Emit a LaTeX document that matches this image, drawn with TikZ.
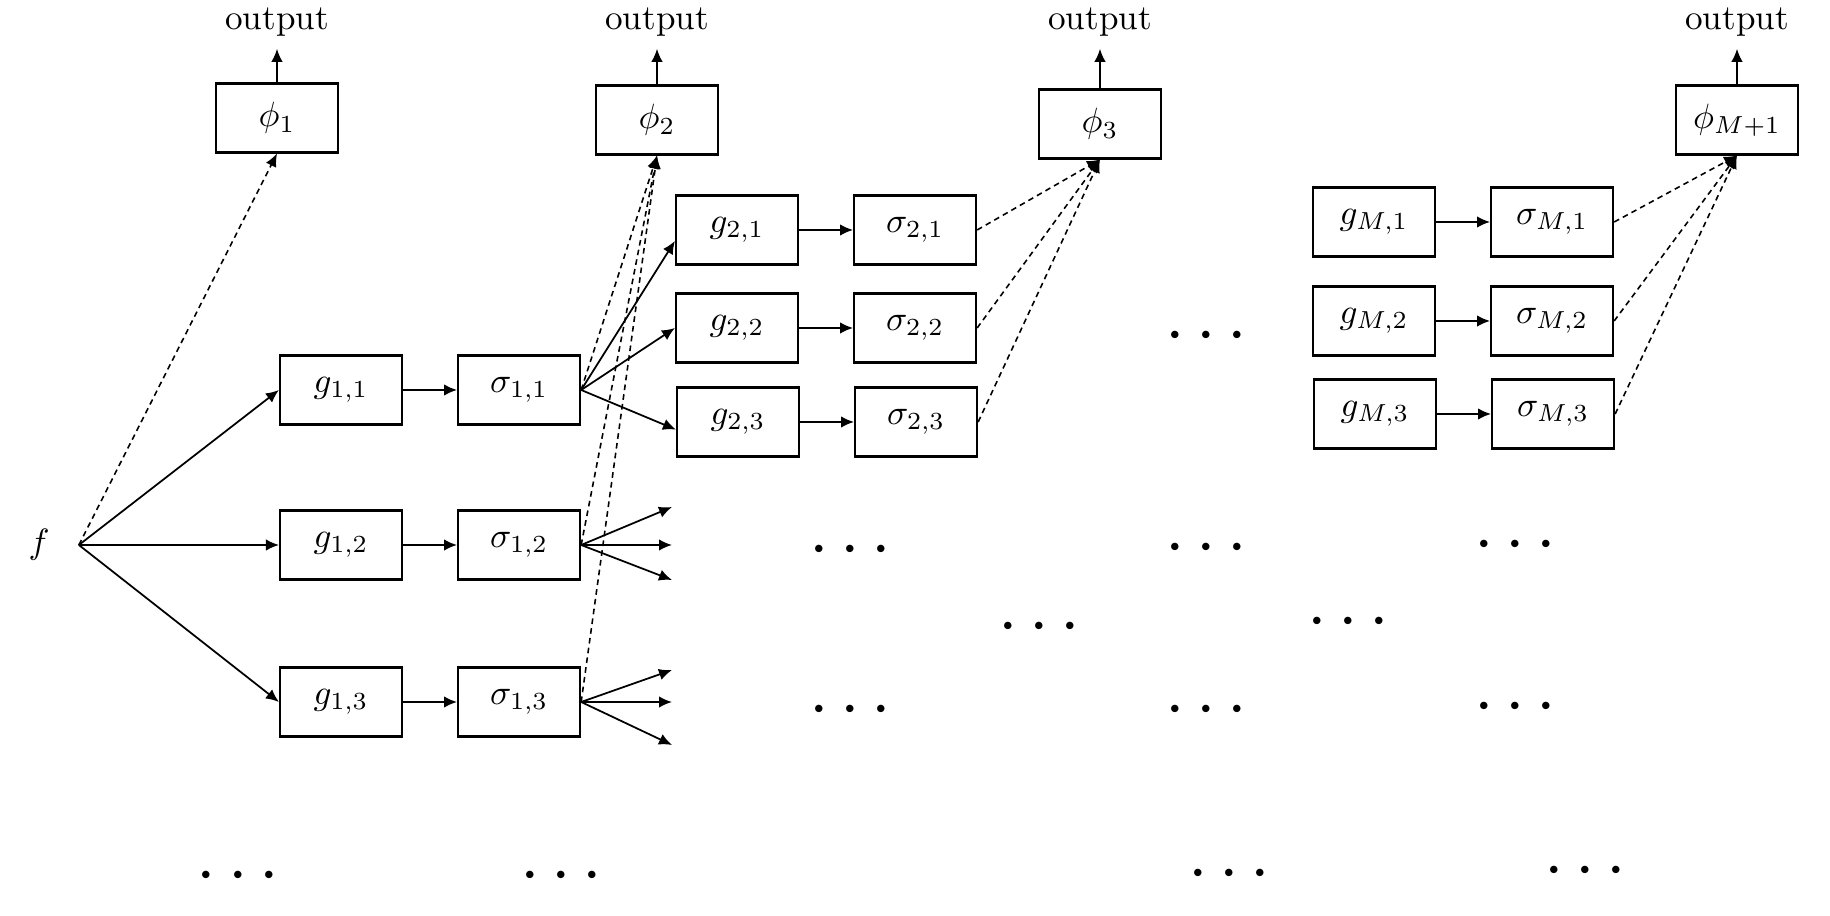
\documentclass[tikz,border=0pt]{standalone}
\usetikzlibrary{positioning, arrows.meta}

\begin{document}
\begin{tikzpicture}[
        box/.style={draw, line width=0.6pt, minimum width=1.22cm, minimum height=0.69cm},
        dots/.style={scale=2, inner sep=0pt},
        dashlink/.style={->, line width=0.45pt, dash pattern=on 1.6pt off 1.2pt},
        >={Latex[length=1.3mm,width=1.15mm]},
        line width=0.5pt]

        \useasboundingbox (0,0) rectangle (18.30,-9.16);

        \node (F) at (0.39,-5.45) [minimum width=0.78cm] {$f$};

        \node[box] (P1) at (2.77,-1.18) {$\phi_1$};
        \node[box] (P2) at (6.57,-1.20) {$\phi_2$};
        \node[box] (P3) at (11.00,-1.24) {$\phi_3$};
        \node[box] (PM) at (17.37,-1.20) {$\phi_{M+1}$};

        \node (O1) at (2.77,-0.22) {output};
        \node (O2) at (6.57,-0.22) {output};
        \node (O3) at (11.00,-0.22) {output};
        \node (OM) at (17.37,-0.22) {output};

        \node[box] (G11) at (3.41,-3.90) {$g_{1,1}$};
        \node[box] (G12) at (3.41,-5.45) {$g_{1,2}$};
        \node[box] (G13) at (3.41,-7.02) {$g_{1,3}$};
        \node[box, right=0.54cm of G11] (S11) {$\sigma_{1,1}$};
        \node[box, right=0.54cm of G12] (S12) {$\sigma_{1,2}$};
        \node[box, right=0.54cm of G13] (S13) {$\sigma_{1,3}$};

        \node[box] (G21) at (7.37,-2.30) {$g_{2,1}$};
        \node[box] (G22) at (7.37,-3.28) {$g_{2,2}$};
        \node[box] (G23) at (7.38,-4.22) {$g_{2,3}$};
        \node[box, right=0.54cm of G21] (S21) {$\sigma_{2,1}$};
        \node[box, right=0.54cm of G22] (S22) {$\sigma_{2,2}$};
        \node[box, right=0.54cm of G23] (S23) {$\sigma_{2,3}$};

        \node[box] (GM1) at (13.74,-2.22) {$g_{M,1}$};
        \node[box] (GM2) at (13.74,-3.21) {$g_{M,2}$};
        \node[box] (GM3) at (13.75,-4.14) {$g_{M,3}$};
        \node[box, right=0.54cm of GM1] (SM1) {$\sigma_{M,1}$};
        \node[box, right=0.54cm of GM2] (SM2) {$\sigma_{M,2}$};
        \node[box, right=0.54cm of GM3] (SM3) {$\sigma_{M,3}$};

        \coordinate (A1) at (6.72,-5.07);
        \coordinate (A2) at (6.72,-5.45);
        \coordinate (A3) at (6.72,-5.80);
        \coordinate (B1) at (6.72,-6.70);
        \coordinate (B2) at (6.72,-7.02);
        \coordinate (B3) at (6.72,-7.45);

        \node[dots] (D1) at (12.06,-3.37) {$\cdots$};
        \node[dots] (D2) at (8.50,-5.51) {$\cdots$};
        \node[dots] (D3) at (12.06,-5.49) {$\cdots$};
        \node[dots] (D4) at (15.15,-5.46) {$\cdots$};
        \node[dots] (D5) at (10.39,-6.28) {$\cdots$};
        \node[dots] (D6) at (13.48,-6.23) {$\cdots$};
        \node[dots] (D7) at (8.50,-7.11) {$\cdots$};
        \node[dots] (D8) at (12.06,-7.11) {$\cdots$};
        \node[dots] (D9) at (15.15,-7.08) {$\cdots$};
        \node[dots] (D10) at (2.38,-8.77) {$\cdots$};
        \node[dots] (D11) at (5.61,-8.77) {$\cdots$};
        \node[dots] (D12) at (12.29,-8.75) {$\cdots$};
        \node[dots] (D13) at (15.85,-8.72) {$\cdots$};

        \draw[->] (P1) -- (O1);
        \draw[->] (P2) -- (O2);
        \draw[->] (P3) -- (O3);
        \draw[->] (PM) -- (OM);

        \draw[->] (F.east) -- (G11.west);
        \draw[->] (F.east) -- (G12.west);
        \draw[->] (F.east) -- (G13.west);
        \draw[dashlink] (F.east) -- (P1.south);

        \draw[->] (G11) -- (S11);
        \draw[->] (G12) -- (S12);
        \draw[->] (G13) -- (S13);
        \draw[->] (G21) -- (S21);
        \draw[->] (G22) -- (S22);
        \draw[->] (G23) -- (S23);
        \draw[->] (GM1) -- (SM1);
        \draw[->] (GM2) -- (SM2);
        \draw[->] (GM3) -- (SM3);

        \draw[->] (S11.east) -- (G21.190);
        \draw[->] (S11.east) -- (G22.west);
        \draw[->] (S11.east) -- (G23.187);
        \draw[->] (S12.east) -- (A1);
        \draw[->] (S12.east) -- (A2);
        \draw[->] (S12.east) -- (A3);
        \draw[->] (S13.east) -- (B1);
        \draw[->] (S13.east) -- (B2);
        \draw[->] (S13.east) -- (B3);

        \draw[dashlink] (S11.east) -- (P2.south);
        \draw[dashlink] (S12.east) -- (P2.south);
        \draw[dashlink] (S13.east) -- (P2.south);
        \draw[dashlink] (S21.east) -- (P3.south);
        \draw[dashlink] (S22.east) -- (P3.south);
        \draw[dashlink] (S23.east) -- (P3.south);
        \draw[dashlink] (SM1.east) -- (PM.south);
        \draw[dashlink] (SM2.east) -- (PM.south);
        \draw[dashlink] (SM3.east) -- (PM.south);

    \end{tikzpicture}
\end{document}
